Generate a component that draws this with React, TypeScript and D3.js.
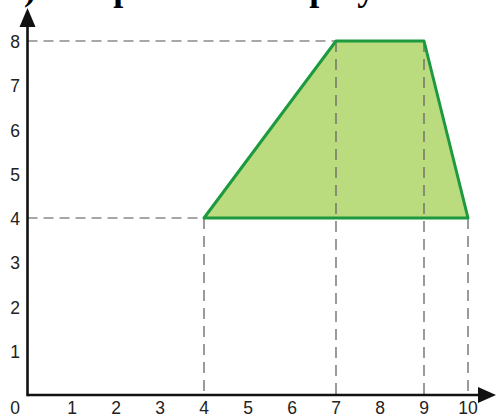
import React from "react";
import * as d3 from "d3";

const xTicks = [0, 1, 2, 3, 4, 5, 6, 7, 8, 9, 10];
const yTicks = [1, 2, 3, 4, 5, 6, 7, 8];
const polygonX = [4, 7, 9, 10];
const polygonY = [4, 8, 8, 4];
const guideX = [4, 7, 9, 10];
const guideY = [8, 4];
const title = "b) The plot of a flat polyline";

const W = 496;
const H = 416;

export default function App() {
  const x = d3.scaleLinear().domain([0, 10]).range([28, 468]);
  const y = d3.scaleLinear().domain([0, 8]).range([395, 41]);
  const pts: [number, number][] = polygonX.map((v, i) => [x(v), y(polygonY[i])]);
  const line = d3.line().curve(d3.curveLinearClosed);
  const axisX = x(0) - 0.5;
  const axisY = y(0);
  const guideXEnd: Record<number, number> = { 8: 7, 4: 4 };
  const guideTop: Record<number, number> = { 4: 4, 7: 8, 9: 8, 10: 4 };
  return (
    <svg
      width={W}
      height={H}
      style={{ position: "absolute", left: 0, top: 0, background: "#fff" }}
      fontFamily="'Liberation Sans', Arial, sans-serif"
    >
      <text
        x={4}
        y={0}
        fontFamily="'Liberation Serif', 'Times New Roman', serif"
        fontWeight="bold"
        fontSize={36}
        fill="#000"
      >
        {title}
      </text>
      {guideY.map((v) => (
        <line
          key={"gy" + v}
          x1={axisX}
          x2={x(guideXEnd[v])}
          y1={y(v)}
          y2={y(v)}
          stroke="#8a8a8a"
          strokeWidth={1.3}
          strokeDasharray="10,6"
        />
      ))}
      <path d={line(pts) || ""} fill="#badc7e" stroke="none" />
      {guideX.map((v) => (
        <line
          key={"gx" + v}
          x1={x(v)}
          x2={x(v)}
          y1={y(guideTop[v])}
          y2={axisY}
          stroke="#666"
          strokeWidth={1.3}
          strokeDasharray="11,7"
        />
      ))}
      <path d={line(pts) || ""} fill="none" stroke="#1d9a3f" strokeWidth={3} strokeLinejoin="round" />
      <line x1={axisX} x2={482} y1={axisY} y2={axisY} stroke="#111" strokeWidth={2.6} />
      <line x1={axisX} x2={axisX} y1={axisY + 1.3} y2={24} stroke="#111" strokeWidth={2.6} />
      <path d={`M${axisX},8 L${axisX - 8},27 L${axisX + 8},27 Z`} fill="#111" />
      <path d={`M496,${axisY} L478,${axisY - 8} L478,${axisY + 8} Z`} fill="#111" />
      {xTicks.map((v) => (
        <text
          key={"xt" + v}
          x={v === 0 ? 15 : x(v)}
          y={413.5}
          textAnchor="middle"
          fontSize={17.5}
          fill="#222"
        >
          {v}
        </text>
      ))}
      {yTicks.map((v) => (
        <text
          key={"yt" + v}
          x={15}
          y={y(v) + 7}
          textAnchor="middle"
          fontSize={17.5}
          fill="#222"
        >
          {v}
        </text>
      ))}
    </svg>
  );
}
